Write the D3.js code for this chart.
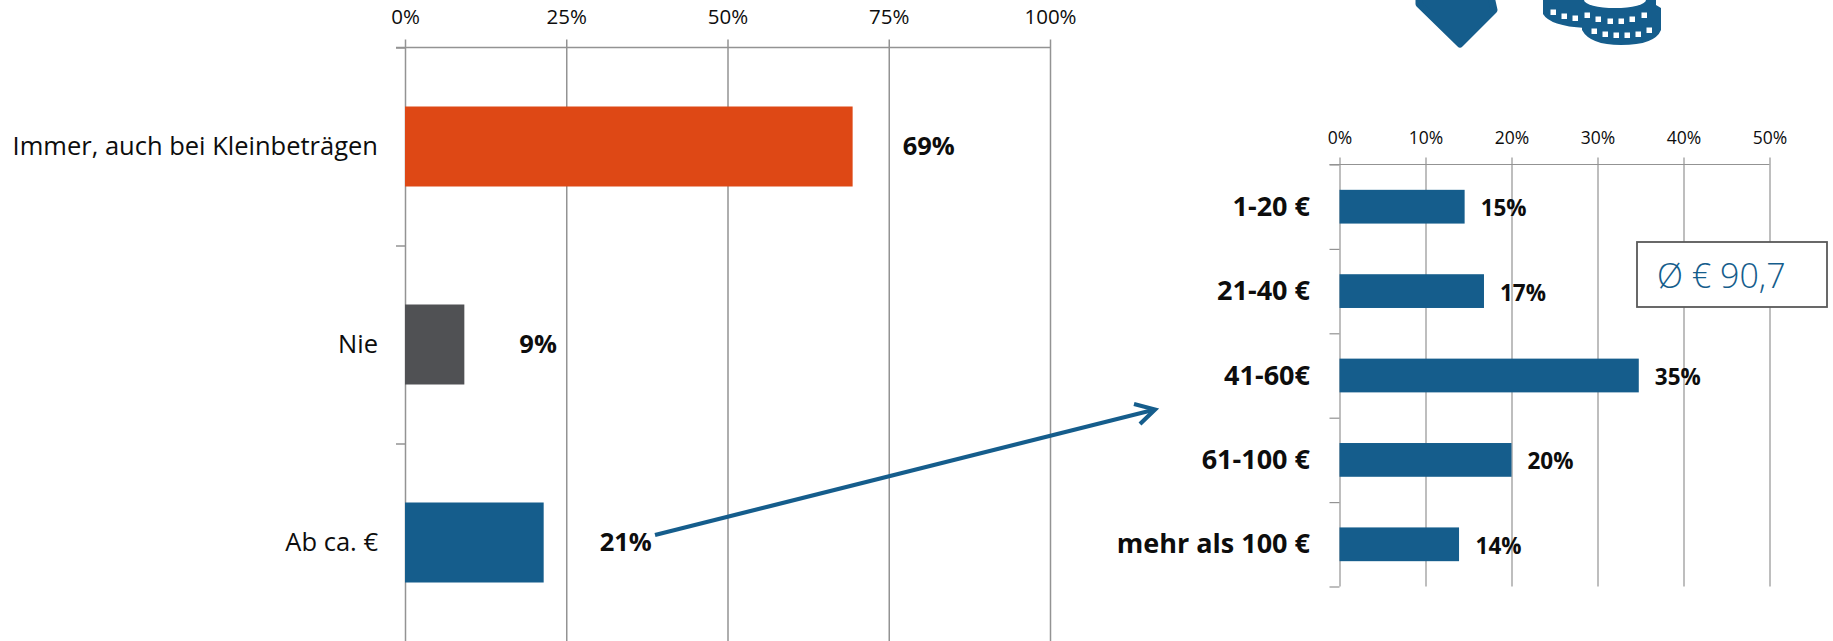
<!DOCTYPE html>
<html><head><meta charset="utf-8">
<script src="https://cdn.jsdelivr.net/npm/d3@7"></script>
<style>
html,body{margin:0;padding:0;background:#fff}
svg{display:block}
text{font-family:"Open Sans",Lato,sans-serif;fill:#0d0d0d}
</style></head><body><svg id="c" width="1833" height="641"></svg>
<script>
// Left chart data
const mainCategories = ["Immer, auch bei Kleinbeträgen", "Nie", "Ab ca. €"];
const mainValues = [69.4, 9.2, 21.5];
const mainLabels = ["69%", "9%", "21%"];
const mainColors = ["#DE4815", "#505154", "#155D8C"];
const mainTicks = [0, 25, 50, 75, 100];
// Right chart data
const amountCategories = ["1-20 €", "21-40 €", "41-60€", "61-100 €", "mehr als 100 €"];
const amountValues = [14.55, 16.8, 34.8, 20, 13.9];
const amountLabels = ["15%", "17%", "35%", "20%", "14%"];
const amountTicks = [0, 10, 20, 30, 40, 50];
const averageLabel = "Ø € 90,7";

const BLUE = "#155D8C", GRID = "#939393";
const svg = d3.select("#c");

function drawChart(o){
  const g = svg.append("g");
  const x = d3.scaleLinear().domain(o.domain).range([o.x0, o.x1]);
  const y = d3.scaleBand().domain(o.cats).range([o.y0, o.y1]).paddingInner(o.pad).paddingOuter(o.pad/2);
  const yb = d3.scaleLinear().domain([0, o.cats.length]).range([o.y0, o.y1]);

  const ax = g.append("g").attr("transform", `translate(0,${o.y0})`)
    .call(d3.axisTop(x).tickValues(o.ticks).tickFormat(d => d + "%").tickSize(o.tickLen).tickSizeOuter(0));
  ax.select(".domain").remove();
  ax.selectAll(".tick line").attr("y1", o.gridEnd - o.y0).attr("y2", -o.tickLen).attr("stroke", GRID).attr("stroke-width", o.sw);
  ax.selectAll(".tick text").attr("y", o.axisBase - o.y0).attr("dy", 0).attr("font-size", o.axisFont).attr("font-family", null);

  const ay = g.append("g").attr("transform", `translate(${o.x0},0)`)
    .call(d3.axisLeft(yb).tickValues(d3.range(0, o.cats.length + 1)).tickFormat("").tickSize(o.tickW).tickSizeOuter(0));
  ay.select(".domain").remove();
  ay.selectAll(".tick line").attr("stroke", GRID).attr("stroke-width", o.sw);
  g.append("line").attr("x1", o.x0 - o.tickW).attr("x2", x(o.domain[1])).attr("y1", o.y0).attr("y2", o.y0)
    .attr("stroke", GRID).attr("stroke-width", o.sw);

  g.selectAll("rect.bar").data(o.cats).join("rect").attr("class", "bar")
    .attr("x", x(0)).attr("y", d => y(d)).attr("height", y.bandwidth())
    .attr("width", (d, i) => x(o.values[i]) - x(0))
    .attr("fill", (d, i) => o.colors ? o.colors[i] : BLUE);

  g.selectAll("text.cat").data(o.cats).join("text").attr("class", "cat")
    .attr("x", o.catX).attr("y", d => y(d) + y.bandwidth() / 2 + o.catDy)
    .attr("text-anchor", "end").attr("font-size", o.catFont).attr("font-weight", o.catWeight).text(d => d);

  g.selectAll("text.val").data(o.cats).join("text").attr("class", "val")
    .attr("x", (d, i) => x(o.values[i]) + o.labelDx[i]).attr("y", d => y(d) + y.bandwidth() / 2 + o.valDy)
    .attr("font-size", o.valFont).attr("font-weight", 700).text((d, i) => o.labels[i]);
}

drawChart({cats: mainCategories, values: mainValues, labels: mainLabels, colors: mainColors, ticks: mainTicks,
  domain: [0, 100], x0: 405, x1: 1050, y0: 47.5, y1: 641.5, pad: 118/198, gridEnd: 641, tickLen: 8, tickW: 9, sw: 1.5,
  axisBase: 24, axisFont: 20.5, catX: 378, catDy: 8, catFont: 25.5, catWeight: 400,
  labelDx: [50, 55, 56], valDy: 8, valFont: 25.5});

drawChart({cats: amountCategories, values: amountValues, labels: amountLabels, ticks: amountTicks,
  domain: [0, 50], x0: 1339.5, x1: 1769.5, y0: 164.5, y1: 586.5, pad: 0.6, gridEnd: 586.5, tickLen: 7, tickW: 10, sw: 1.2,
  axisBase: 144, axisFont: 17.5, catX: 1310, catDy: 9, catFont: 27, catWeight: 700,
  labelDx: [16, 16, 16, 16, 16.5], valDy: 9.5, valFont: 22.5});

svg.append("rect").attr("x", 1637).attr("y", 242).attr("width", 190).attr("height", 65)
  .attr("fill", "#fff").attr("stroke", "#595959").attr("stroke-width", 1.8);
svg.append("text").attr("x", 1657).attr("y", 288).attr("font-size", 34).attr("font-weight", 300)
  .style("fill", BLUE).text(averageLabel);

const arrow = svg.append("g").attr("fill", "none").attr("stroke", BLUE).attr("stroke-width", 4.2);
arrow.append("line").attr("x1", 655).attr("y1", 535).attr("x2", 1153).attr("y2", 410);
arrow.append("path").attr("d", "M1134,404 L1155,409.5 L1140,424");

svg.append("path").attr("d", "M1419,-8 L1490,-8 L1494,10 L1460,44 L1419,4 Z").attr("fill", BLUE)
  .attr("stroke", BLUE).attr("stroke-width", 7).attr("stroke-linejoin", "round");

const coins = svg.append("g").attr("fill", BLUE);
coins.append("path").attr("d", "M1543,-2 L1543,14 Q1550,26 1585,28 L1610,28 L1610,-2 Z");
coins.append("path").attr("d", "M1582,-2 L1582,30 Q1590,45 1621,45 Q1655,45 1661,30 L1661,8 L1656,5 L1656,-2 Z");
coins.append("ellipse").attr("cx", 1615).attr("cy", 0).attr("rx", 31).attr("ry", 8).attr("fill", "#fff");
const holes = [[1553,12],[1564,16],[1575,18],[1587,15],[1598,19],[1610,21],[1621,21],[1632,19],[1644,15],
  [1594,31],[1605,34],[1616,35],[1627,35],[1638,34],[1649,30]];
coins.selectAll("rect.h").data(holes).join("rect").attr("class", "h")
  .attr("x", d => d[0] - 2.5).attr("y", d => d[1] - 2.5).attr("width", 5.5).attr("height", 5.5).attr("fill", "#fff");
</script></body></html>
